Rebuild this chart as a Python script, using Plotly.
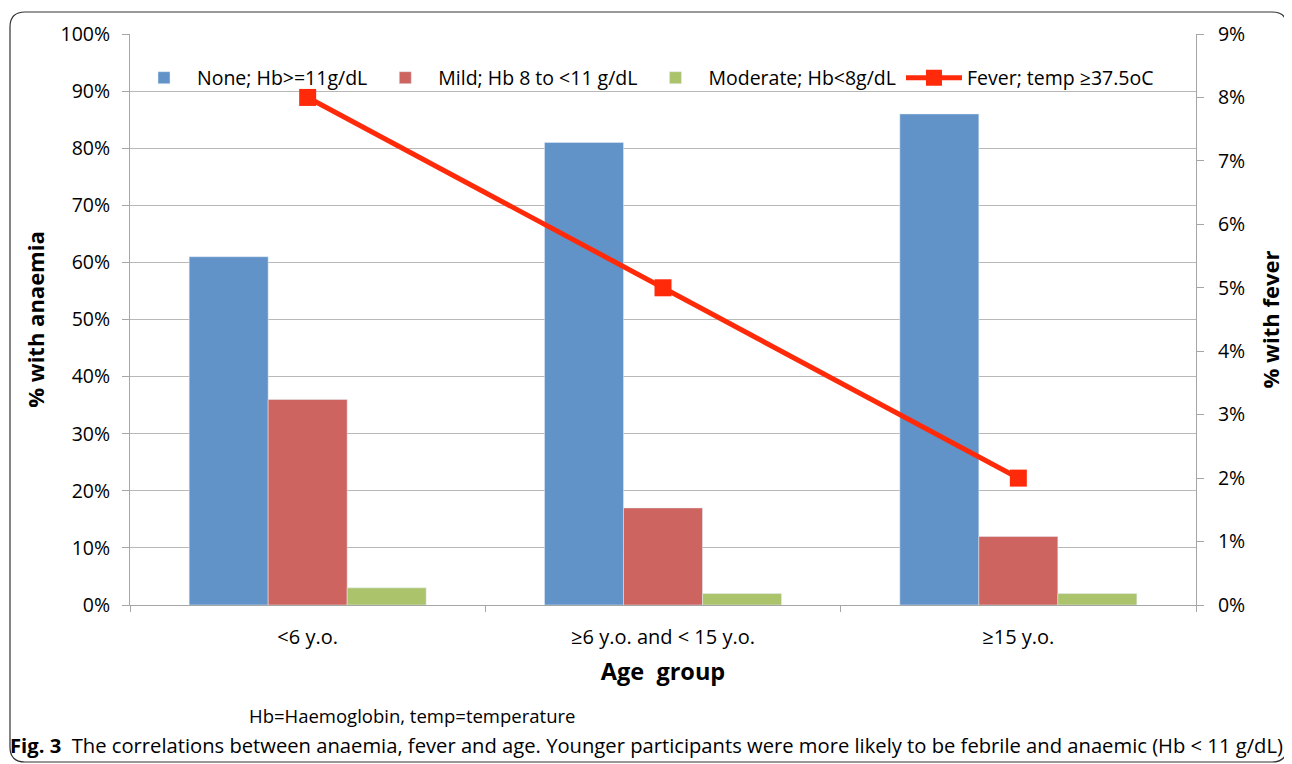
import plotly.graph_objects as go

categories = ["<6 y.o.", "≥6 y.o. and < 15 y.o.", "≥15 y.o."]
none_pct = [0.61, 0.81, 0.86]
mild_pct = [0.36, 0.17, 0.12]
moderate_pct = [0.03, 0.02, 0.02]
fever_pct = [0.08, 0.05, 0.02]

series_names = ["None; Hb>=11g/dL", "Mild; Hb 8 to <11 g/dL", "Moderate; Hb<8g/dL", "Fever; temp ≥37.5oC"]
left_ticks = [i / 10 for i in range(11)]
right_ticks = [i / 100 for i in range(10)]

FONT = "Open Sans"
OFF = 8  # page body margin
W, H = 1284, 756
L, R, T, B = 122, 96, 26, 159
PW, PH = W - L - R, H - T - B

def px(x_page):
    return (x_page - OFF - L) / PW

def py(y_page):
    return (H - B - (y_page - OFF)) / PH

fig = go.Figure()
fig.add_trace(go.Bar(x=categories, y=none_pct, name=series_names[0], marker_color="#6193c8"))
fig.add_trace(go.Bar(x=categories, y=mild_pct, name=series_names[1], marker_color="#cd645f"))
fig.add_trace(go.Bar(x=categories, y=moderate_pct, name=series_names[2], marker_color="#abc46c"))
fig.add_trace(go.Scatter(x=categories, y=fever_pct, name=series_names[3], yaxis="y2",
                         mode="lines+markers",
                         line=dict(color="#ff2a0a", width=5),
                         marker=dict(symbol="square", size=17, color="#ff2a0a")))

# rounded frame
x0, x1 = px(10), px(1287)
y0, y1 = py(762), py(12)
rx, ry = 15 / PW, 15 / PH
path = (f"M {x0+rx},{y1} L {x1-rx},{y1} Q {x1},{y1} {x1},{y1-ry} "
        f"L {x1},{y0+ry} Q {x1},{y0} {x1-rx},{y0} L {x0+rx},{y0} "
        f"Q {x0},{y0} {x0},{y0+ry} L {x0},{y1-ry} Q {x0},{y1} {x0+rx},{y1} Z")

fig.update_layout(
    width=W, height=H,
    margin=dict(l=L, r=R, t=T, b=B),
    paper_bgcolor="white", plot_bgcolor="white",
    font=dict(family=FONT, size=16, color="black"),
    barmode="group", bargap=0.333, bargroupgap=0,
    showlegend=True,
    legend=dict(orientation="h", x=px(131), y=py(78), xanchor="left", yanchor="middle",
                bgcolor="rgba(0,0,0,0)", font=dict(size=19.5, family=FONT),
                itemwidth=56, traceorder="normal"),
    xaxis=dict(
        showline=True, linecolor="#a6a6a6", linewidth=1,
        ticks="outside", tickson="boundaries", ticklen=6, tickcolor="#a6a6a6",
        tickfont=dict(size=20), ticklabelstandoff=14,
        title=dict(text="<b>Age\u00a0 group</b>", font=dict(size=23.5), standoff=14),
        showgrid=False,
    ),
    yaxis=dict(
        range=[0, 1], tickvals=left_ticks, tickformat=".0%",
        showline=True, linecolor="#a6a6a6", linewidth=1,
        ticks="outside", ticklen=7, tickcolor="#a6a6a6",
        showgrid=True, gridcolor="#b8b8b8", gridwidth=1,
        tickfont=dict(size=19.5), ticklabelstandoff=8,
        title=dict(text="<b>% with anaemia</b>", font=dict(size=22), standoff=9),
        zeroline=False,
    ),
    yaxis2=dict(
        range=[0, 0.09], tickvals=right_ticks, tickformat=".0%",
        overlaying="y", side="right",
        showline=True, linecolor="#a6a6a6", linewidth=1,
        ticks="outside", ticklen=7, tickcolor="#a6a6a6",
        showgrid=False, zeroline=False,
        tickfont=dict(size=19.5), ticklabelstandoff=10,
        title=dict(text="<b>% with fever</b>", font=dict(size=22), standoff=19),
    ),
    shapes=[dict(type="path", path=path, xref="paper", yref="paper",
                 line=dict(color="#333333", width=1.2), fillcolor="rgba(0,0,0,0)", layer="below")],
    annotations=[
        dict(text="Hb=Haemoglobin, temp=temperature", x=px(412), y=py(715), xref="paper", yref="paper",
             xanchor="center", yanchor="middle", showarrow=False, font=dict(size=18.5, family=FONT)),
        dict(text="<b>Fig. 3</b>  The correlations between anaemia, fever and age. Younger participants were more likely to be febrile and anaemic (Hb < 11 g/dL)",
             x=px(8), y=py(745), xref="paper", yref="paper",
             xanchor="left", yanchor="middle", showarrow=False, font=dict(size=20.2, family=FONT)),
    ],
)

fig.write_html("out.html")
